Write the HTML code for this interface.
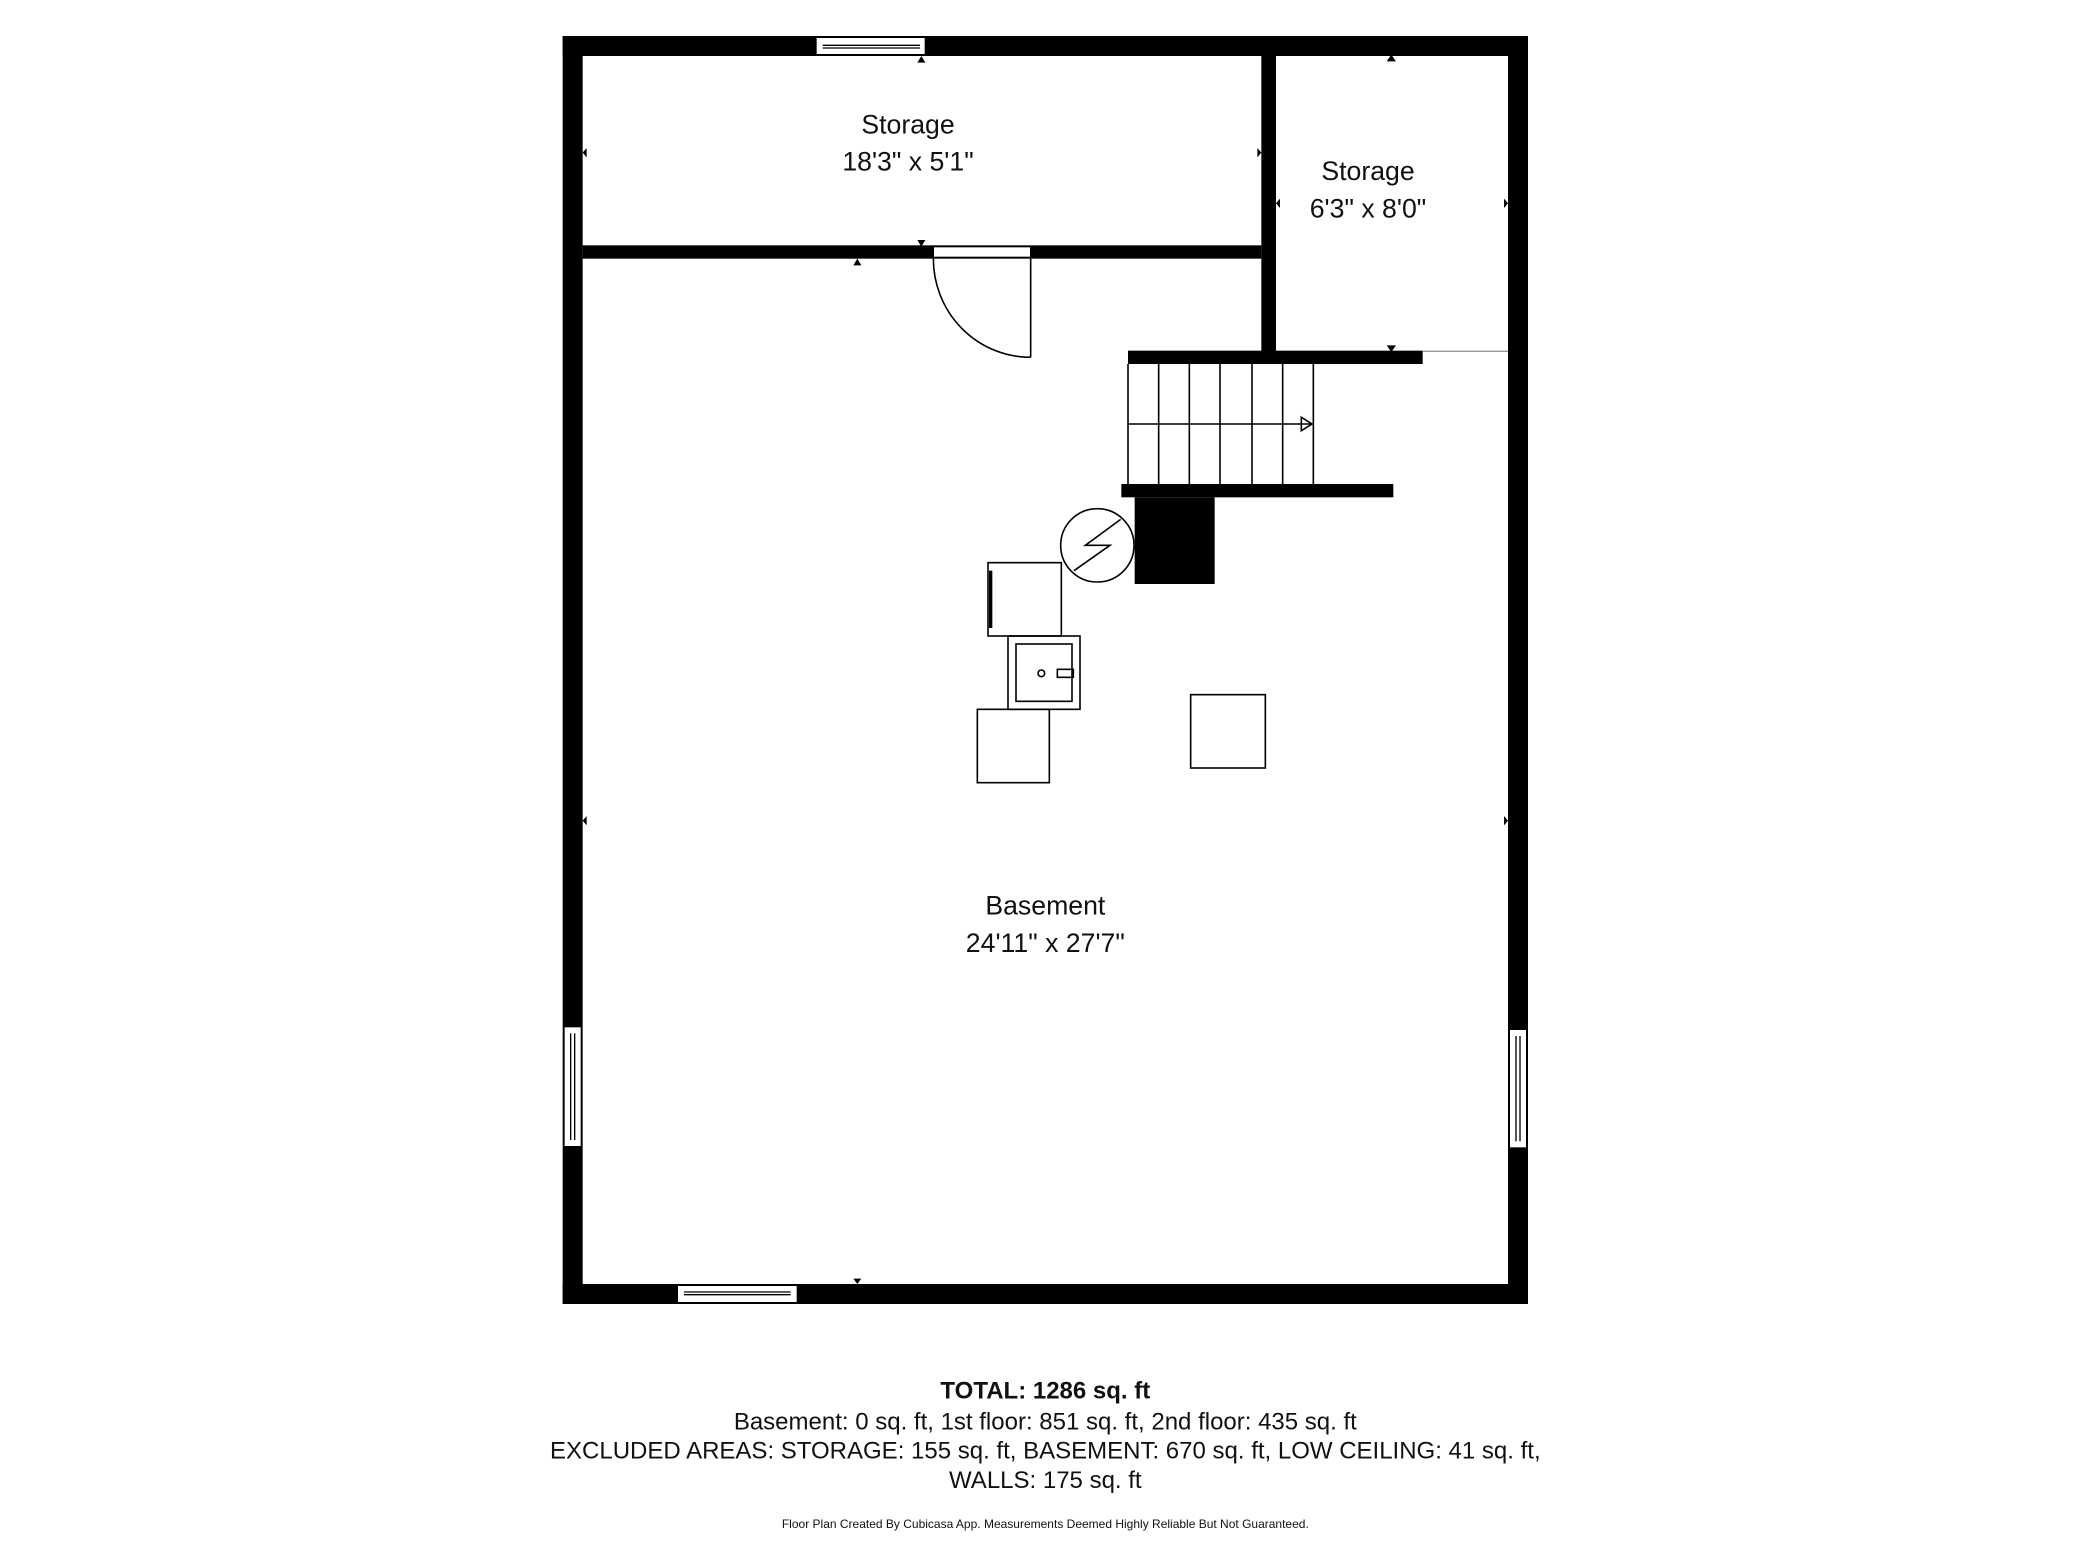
<!DOCTYPE html>
<html><head><meta charset="utf-8"><style>
html,body{margin:0;padding:0;background:#fff;}
svg{display:block;}
text{font-family:"Liberation Sans",sans-serif;fill:#111;}
</style></head><body>
<svg width="2080" height="1560" viewBox="0 0 1560 1170" xmlns="http://www.w3.org/2000/svg">
<rect width="1560" height="1170" fill="#fff"/>
<g fill="#000">
<rect x="422" y="27" width="724" height="15"/>
<rect x="422" y="963" width="724" height="15"/>
<rect x="422" y="27" width="15" height="951"/>
<rect x="1131" y="27" width="15" height="951"/>
<rect x="437" y="184" width="509" height="10"/>
<rect x="946" y="42" width="11" height="231"/>
<rect x="846" y="263" width="221" height="10"/>
<rect x="841" y="363" width="204" height="10"/>
<rect x="851" y="373" width="60" height="65"/>
</g>
<line x1="1067" y1="263.5" x2="1131" y2="263.5" stroke="#999" stroke-width="1"/>
<g fill="#fff" stroke="#000" stroke-width="1">
<rect x="612" y="28" width="82" height="13"/>
<line x1="617" y1="34" x2="690" y2="34"/><line x1="617" y1="36" x2="690" y2="36"/>
<rect x="508" y="964" width="90" height="13"/>
<line x1="513" y1="969" x2="593" y2="969"/><line x1="513" y1="971" x2="593" y2="971"/>
<rect x="423" y="770" width="13" height="90"/>
<line x1="428" y1="775" x2="428" y2="855"/><line x1="431" y1="775" x2="431" y2="855"/>
<rect x="1132" y="772" width="13" height="89"/>
<line x1="1137" y1="777" x2="1137" y2="856"/><line x1="1140" y1="777" x2="1140" y2="856"/>
<rect x="700" y="185" width="73" height="8"/>
</g>
<g fill="none" stroke="#000" stroke-width="1.2">
<line x1="773" y1="194" x2="773" y2="268"/>
<path d="M700 194 A73 74 0 0 0 773 268"/>
<line x1="846" y1="273" x2="846" y2="363"/>
<line x1="869" y1="273" x2="869" y2="363"/>
<line x1="892" y1="273" x2="892" y2="363"/>
<line x1="915" y1="273" x2="915" y2="363"/>
<line x1="939" y1="273" x2="939" y2="363"/>
<line x1="962" y1="273" x2="962" y2="363"/>
<line x1="985" y1="273" x2="985" y2="363"/>
<line x1="846" y1="318" x2="984" y2="318"/>
<path d="M976 313 L984 318 L976 323 Z"/>
<circle cx="823" cy="409" r="27.5"/>
<path d="M805.5 428 L832.5 409 L814 409 L840.5 389.5"/>
<rect x="741" y="422" width="55" height="55"/>
<line x1="743" y1="428" x2="743" y2="471" stroke-width="2.5"/>
<rect x="756" y="477" width="54" height="55"/>
<rect x="762" y="483" width="42" height="43"/>
<circle cx="781" cy="505" r="2.5"/>
<rect x="793" y="502" width="12" height="6"/>
<rect x="733" y="532" width="54" height="55"/>
<rect x="893" y="521" width="56" height="55"/>
</g>
<g fill="#000">
<path d="M688 47 L694 47 L691 42 Z"/>
<path d="M688 180 L694 180 L691 185 Z"/>
<path d="M640 199 L646 199 L643 194 Z"/>
<path d="M1040 46 L1047 46 L1043.5 41 Z"/>
<path d="M1040 259 L1047 259 L1043.5 264 Z"/>
<path d="M440 111 L440 118 L437 114.5 Z"/>
<path d="M943 111 L943 118 L946 114.5 Z"/>
<path d="M960 149 L960 156 L957 152.5 Z"/>
<path d="M1128 149 L1128 156 L1131 152.5 Z"/>
<path d="M440 612 L440 619 L437 615.5 Z"/>
<path d="M1128 612 L1128 619 L1131 615.5 Z"/>
<path d="M640 959 L646 959 L643 963 Z"/>
</g>
<g text-anchor="middle">
<text x="681" y="100" font-size="20">Storage</text>
<text x="681" y="128" font-size="20">18'3" x 5'1"</text>
<text x="1026" y="135" font-size="20">Storage</text>
<text x="1026" y="163" font-size="20">6'3" x 8'0"</text>
<text x="784" y="686" font-size="20">Basement</text>
<text x="784" y="714" font-size="20">24'11" x 27'7"</text>
<text x="784" y="1049" font-size="18" font-weight="bold">TOTAL: 1286 sq. ft</text>
<text x="784" y="1072" font-size="18">Basement: 0 sq. ft, 1st floor: 851 sq. ft, 2nd floor: 435 sq. ft</text>
<text x="784" y="1094" font-size="18">EXCLUDED AREAS: STORAGE: 155 sq. ft, BASEMENT: 670 sq. ft, LOW CEILING: 41 sq. ft,</text>
<text x="784" y="1116" font-size="18">WALLS: 175 sq. ft</text>
<text x="784" y="1146" font-size="9">Floor Plan Created By Cubicasa App. Measurements Deemed Highly Reliable But Not Guaranteed.</text>
</g>
</svg>
</body></html>
